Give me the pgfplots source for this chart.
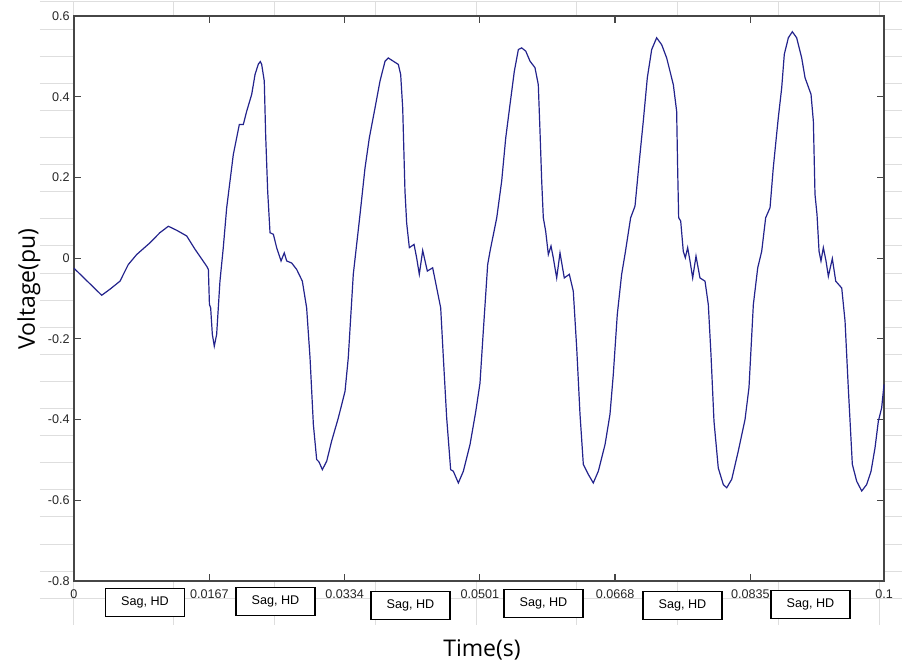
\documentclass[border=0pt]{standalone}
\usepackage{fontspec}
\setmainfont{Liberation Sans}
\newfontfamily\labelfont{Open Sans}
\usepackage{pgfplots}
\pgfplotsset{compat=1.18}
\definecolor{wave}{RGB}{35,35,140}
\definecolor{axgray}{RGB}{70,70,70}
\definecolor{bggrid}{RGB}{222,222,222}

\begin{document}
\begin{tikzpicture}
\useasboundingbox (0,0) rectangle (452pt,334.5pt);
% faint grid behind the figure (pixel units)
\begin{axis}[
    at={(20pt,22pt)}, anchor=south west,
    scale only axis, width=431pt, height=311.5pt,
    xmin=40, xmax=902, ymin=2, ymax=625, y dir=reverse,
    xtick={73,173.75,...,880}, ytick={2,29.1,...,600},
    xticklabels={}, yticklabels={},
    grid=major, grid style={bggrid, line width=0.5pt},
    axis line style={draw=none}, tick style={draw=none},
]
\end{axis}
% main plot
\begin{axis}[
    at={(37pt,44pt)}, anchor=south west,
    scale only axis, width=405pt, height=282.5pt,
    xmin=0, xmax=0.1, ymin=-0.8, ymax=0.6,
    axis background/.style={fill=white},
    axis line style={axgray, line width=0.8pt},
    tick style={axgray, line width=0.6pt},
    major tick length=3.5pt,
    xtick={0,0.0167,0.0334,0.0501,0.0668,0.0835,0.1},
    xticklabels={0,0.0167,0.0334,0.0501,0.0668,0.0835,0.1},
    ytick={-0.8,-0.6,-0.4,-0.2,0,0.2,0.4,0.6},
    yticklabels={-0.8,-0.6,-0.4,-0.2,0,0.2,0.4,0.6},
    ticklabel style={font=\fontsize{6.3}{7}\selectfont, text=black!85},
    xticklabel style={inner sep=0pt, yshift=-4pt},
    yticklabel style={inner sep=0pt, xshift=-2pt},
    xlabel={Time(s)}, ylabel={Voltage(pu)},
    label style={font=\labelfont\fontsize{11.5}{13}\selectfont},
    xlabel style={at={(axis description cs:0.5037,-0.1221)}, anchor=center},
    ylabel style={at={(axis description cs:-0.0556,0.5168)}, anchor=center},
    clip=false,
]
\addplot[wave, line width=0.6pt] coordinates {
(0,-0.025) (0.00342,-0.092) (0.00444,-0.077) (0.00568,-0.057) (0.0067,-0.016)
(0.00774,0.009) (0.00938,0.038) (0.0106,0.063) (0.01165,0.079) (0.01268,0.069)
(0.01391,0.055) (0.01494,0.022) (0.01638,-0.020) (0.01659,-0.028) (0.01672,-0.115)
(0.01687,-0.123) (0.01708,-0.189) (0.01732,-0.218) (0.01761,-0.189) (0.01802,-0.057)
(0.01843,0.026) (0.01885,0.125) (0.01926,0.191) (0.01967,0.257) (0.02029,0.319)
(0.02041,0.331) (0.0209,0.331) (0.02132,0.364) (0.02194,0.406) (0.02235,0.455)
(0.02276,0.481) (0.02300,0.487) (0.02317,0.480) (0.02349,0.439) (0.02366,0.306)
(0.02391,0.166) (0.0242,0.063) (0.02461,0.059) (0.02502,0.026) (0.02556,-0.007)
(0.02596,0.013) (0.02626,-0.007) (0.02687,-0.012) (0.02749,-0.028) (0.02819,-0.057)
(0.02872,-0.123) (0.02914,-0.247) (0.02955,-0.412) (0.02996,-0.499) (0.03025,-0.505)
(0.03066,-0.524) (0.0312,-0.503) (0.03181,-0.453) (0.03263,-0.396) (0.03346,-0.330)
(0.03386,-0.247) (0.03448,-0.040) (0.03531,0.108) (0.03593,0.224) (0.03646,0.298)
(0.03716,0.372) (0.03778,0.439) (0.0384,0.488) (0.0388,0.496) (0.03942,0.488)
(0.04004,0.480) (0.04033,0.455) (0.04058,0.372) (0.04086,0.166) (0.04107,0.087)
(0.0414,0.026) (0.04198,0.034) (0.0423,0.001) (0.04263,-0.040) (0.04305,0.019)
(0.04362,-0.032) (0.04428,-0.024) (0.04478,-0.074) (0.04527,-0.123) (0.0456,-0.247)
(0.04601,-0.396) (0.0465,-0.524) (0.04683,-0.528) (0.04745,-0.557) (0.04807,-0.528)
(0.04889,-0.462) (0.0496,-0.380) (0.05012,-0.310) (0.05053,-0.181) (0.05107,-0.016)
(0.05136,0.017) (0.05219,0.100) (0.0528,0.191) (0.0533,0.298) (0.05383,0.381)
(0.05436,0.463) (0.05486,0.517) (0.05527,0.521) (0.05577,0.513) (0.0563,0.488)
(0.05691,0.472) (0.05732,0.430) (0.05753,0.315) (0.05774,0.191) (0.05794,0.100)
(0.05823,0.067) (0.05856,0.009) (0.05889,0.030) (0.05917,0.001) (0.05959,-0.049)
(0.06,0.013) (0.06053,-0.049) (0.06115,-0.040) (0.06164,-0.082) (0.06206,-0.222)
(0.06247,-0.387) (0.06288,-0.511) (0.0635,-0.536) (0.06411,-0.557) (0.06473,-0.528)
(0.06556,-0.462) (0.06617,-0.387) (0.06658,-0.288) (0.06707,-0.140) (0.06761,-0.040)
(0.06802,0.009) (0.06872,0.100) (0.06926,0.129) (0.06967,0.216) (0.07028,0.339)
(0.07078,0.447) (0.07132,0.517) (0.07193,0.546) (0.07255,0.529) (0.07317,0.496)
(0.07399,0.430) (0.0744,0.364) (0.07453,0.216) (0.07465,0.100) (0.0749,0.092)
(0.07522,0.017) (0.07547,0.001) (0.07576,0.026) (0.07605,-0.007) (0.07638,-0.049)
(0.07679,0.005) (0.07728,-0.049) (0.0779,-0.057) (0.07831,-0.115) (0.07864,-0.239)
(0.07901,-0.404) (0.07954,-0.520) (0.08016,-0.561) (0.08058,-0.569) (0.0812,-0.548)
(0.08201,-0.478) (0.08284,-0.400) (0.08333,-0.321) (0.08387,-0.115) (0.08441,-0.024)
(0.0849,0.017) (0.08539,0.100) (0.08593,0.125) (0.08633,0.224) (0.08695,0.348)
(0.08737,0.422) (0.08769,0.505) (0.08819,0.546) (0.08868,0.561) (0.08922,0.546)
(0.08984,0.496) (0.09025,0.447) (0.09099,0.406) (0.09128,0.339) (0.09148,0.158)
(0.09173,0.108) (0.09198,0.017) (0.09222,-0.007) (0.09251,0.026) (0.09284,-0.007)
(0.09313,-0.045) (0.09362,-0.001) (0.09404,-0.057) (0.09478,-0.074) (0.09519,-0.156)
(0.09559,-0.321) (0.09609,-0.511) (0.09663,-0.553) (0.09725,-0.577) (0.09786,-0.561)
(0.0984,-0.528) (0.09889,-0.470) (0.0993,-0.404) (0.09971,-0.371) (0.1,-0.313)
};
% event annotations under the time axis
\tikzset{evbox/.style={draw=black, line width=0.6pt, minimum width=39.5pt,
    minimum height=14pt, inner sep=0pt, fill=white,
    font=\fontsize{6.3}{7}\selectfont}}
\node[evbox] at (axis cs:0.00877,-0.8536) {Sag, HD};
\node[evbox] at (axis cs:0.02488,-0.8510) {Sag, HD};
\node[evbox] at (axis cs:0.04154,-0.8600) {Sag, HD};
\node[evbox] at (axis cs:0.05796,-0.8550) {Sag, HD};
\node[evbox] at (axis cs:0.07512,-0.8600) {Sag, HD};
\node[evbox] at (axis cs:0.09093,-0.8590) {Sag, HD};
\end{axis}
\end{tikzpicture}
\end{document}
